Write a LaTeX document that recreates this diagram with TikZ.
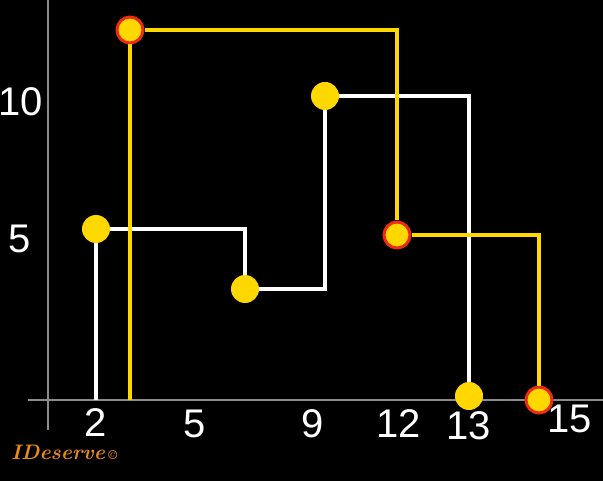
\documentclass[tikz,border=0pt]{standalone}
\usepackage{fontspec}
\setmainfont{Liberation Sans}
\newfontfamily\logofont{Latin Modern Roman}
\usepackage{tikz}
\usetikzlibrary{calc}
\definecolor{dotyellow}{HTML}{FFD800}
\definecolor{ringred}{HTML}{EE2A10}
\definecolor{logoorange}{HTML}{E8891C}
\tikzset{
	wline/.style={line width=3.2pt, color=white},
	yline/.style={line width=3.2pt, color=dotyellow},
	axis/.style={line width=1.2pt, color=black!45!white},
	wdot/.style={circle, fill=dotyellow, inner sep=0pt, minimum size=28pt},
	rdot/.style={circle, fill=dotyellow, draw=ringred, line width=3pt, inner sep=0pt, minimum size=26pt},
	num/.style={text=white, font=\fontsize{40}{40}\selectfont, inner sep=0pt}
}

\begin{document}
\begin{tikzpicture}[x=1pt, y=-1pt]
			%%%%% START %%%%%
			
			\fill[black] (0, 0) rectangle (603, 481);
			\useasboundingbox (0, 0) rectangle (603, 481);
			
			\coordinate (xl) at (28, 400);
			\coordinate (xr) at (603, 400);
			\coordinate (yt) at (48, 0);
			\coordinate (yb) at (48, 430);
			\draw[axis] (xl) -- (xr);
			\draw[axis] (yt) -- (yb);
			
			\coordinate (w0) at (96, 400);
			\node[wdot] (w1) at (96, 229) {};
			\node[wdot] (w2) at (245, 289) {};
			\node[wdot] (w3) at (325, 96) {};
			\node[wdot] (w4) at (469, 396) {};
			
			\coordinate (y0) at (130, 400);
			\node[rdot] (y1) at (130, 30) {};
			\node[rdot] (y2) at (397, 235) {};
			\node[rdot] (y3) at (539, 400) {};
			
			\draw[wline] (w0) -- (w1);
			\draw[wline] (w1) -| (w2);
			\draw[wline] (w2) -| (w3);
			\draw[wline] (w3) -| (w4);
			
			\draw[yline] (y0) -- (y1);
			\draw[yline] (y1) -| (y2);
			\draw[yline] (y2) -| (y3);
			
			\node[num] (lx2) at (96, 423) {2};
			\node[num] (lx5) at (195, 424) {5};
			\node[num] (lx9) at (313, 424) {9};
			\node[num] (lx12) at (399, 424) {12};
			\node[num] (lx13) at (469, 426) {13};
			\node[num] (lx15) at (570, 419) {15};
			\node[num] (ly10) at (21, 102) {10};
			\node[num] (ly5) at (20, 239) {5};
			
			\node[text=logoorange, inner sep=0pt, anchor=west, font=\logofont\fontsize{21}{21}\selectfont\bfseries\itshape] (logo) at (11, 452) {IDeserve\,{\fontsize{13}{13}\selectfont\textcopyright}};
			
			%%%%% END %%%%%
		\end{tikzpicture}
\end{document}
